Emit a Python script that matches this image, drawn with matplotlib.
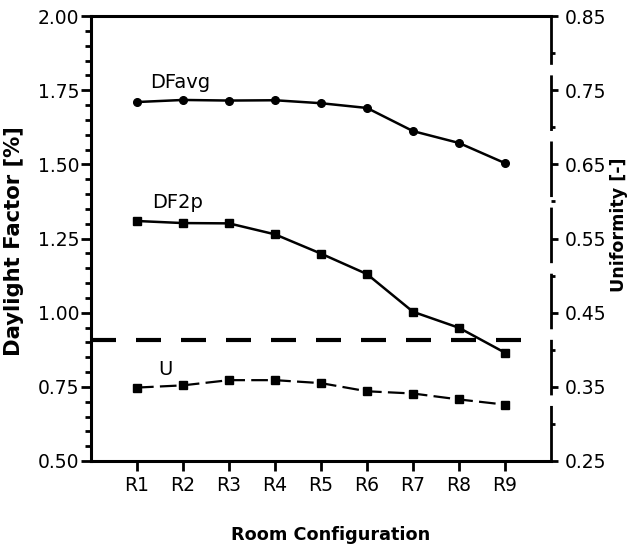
import matplotlib
matplotlib.use("Agg")
import matplotlib.pyplot as plt
import numpy as np

plt.rcParams['font.family'] = ['DejaVu Sans']
plt.rcParams['lines.scale_dashes'] = False

# room configurations
rooms = ['R1', 'R2', 'R3', 'R4', 'R5', 'R6', 'R7', 'R8', 'R9']
# average daylight factor [%]
df_avg = [1.710, 1.717, 1.715, 1.716, 1.706, 1.690, 1.612, 1.572, 1.504]
# daylight factor at 2 points [%]
df_2p = [1.309, 1.302, 1.301, 1.264, 1.199, 1.130, 1.003, 0.949, 0.865]
# uniformity [-]
uniformity = [0.349, 0.352, 0.359, 0.359, 0.355, 0.344, 0.341, 0.333, 0.326]
# dashed reference level on the daylight factor axis
threshold = 0.908
threshold_end = 9.38

x = np.arange(1, len(rooms) + 1)

fig = plt.figure(figsize=(6.31, 5.47), dpi=100)
ax = fig.add_axes([91 / 631, 86 / 547, 460 / 631, 445 / 547])
ax2 = ax.twinx()

ax.plot(x, df_avg, '-o', color='black', lw=1.8, ms=5.5)
ax.plot(x, df_2p, '-s', color='black', lw=1.8, ms=6)
ax.plot([0, threshold_end], [threshold, threshold], color='black', lw=3,
        dashes=(18, 14.4), solid_capstyle='butt', dash_capstyle='butt')
ax2.plot(x, uniformity, 's', color='black', ls=(0, (12, 4.5)), lw=1.6, ms=6)

ax.text(1.29, 1.776, 'DFavg', fontsize=14, va='center', ha='left')
ax.text(1.33, 1.370, 'DF2p', fontsize=14, va='center', ha='left')
ax2.text(1.46, 0.374, 'U', fontsize=14, va='center', ha='left')

ax.set_xlim(0, 10)
ax.set_ylim(0.5, 2.0)
ax2.set_ylim(0.25, 0.85)

ax.set_xticks(x)
ax.set_xticklabels(rooms)
ax.set_yticks(np.arange(0.5, 2.01, 0.25))
ax.set_yticks(np.arange(0.5, 2.01, 0.05), minor=True)
ax.yaxis.set_major_formatter(matplotlib.ticker.FormatStrFormatter('%.2f'))
ax2.set_yticks(np.arange(0.25, 0.851, 0.1))
ax2.set_yticks(np.arange(0.30, 0.81, 0.1), minor=True)
ax2.yaxis.set_major_formatter(matplotlib.ticker.FormatStrFormatter('%.2f'))

ax.tick_params(axis='y', which='major', direction='out', length=7, width=2,
               labelsize=13.5, pad=1.5)
ax.tick_params(axis='y', which='minor', direction='out', length=4.5, width=2)
ax.tick_params(axis='x', which='major', direction='out', length=7, width=2,
               labelsize=13.5, pad=4)
ax.tick_params(axis='x', which='minor', bottom=False)
ax2.tick_params(axis='y', which='major', direction='out', length=5, width=2,
                labelsize=13.5, pad=5)
ax2.tick_params(axis='y', which='minor', direction='out', length=3, width=2)

for s in ['left', 'bottom', 'top']:
    ax.spines[s].set_linewidth(2.2)
ax.spines['right'].set_visible(False)
for s in ['left', 'bottom', 'top']:
    ax2.spines[s].set_visible(False)
ax2.spines['right'].set_linewidth(2)
ax2.spines['right'].set_linestyle((0, (40, 7.6)))
ax2.spines['right'].set_capstyle('butt')

ax.set_xlabel('Room Configuration', fontsize=12.7, fontweight='bold', va='center')
ax.xaxis.set_label_coords(0.522, -0.166)
ax.set_ylabel('Daylight Factor [%]', fontsize=15.2, fontweight='bold', va='center')
ax.yaxis.set_label_coords(-0.167, 0.494)
ax2.set_ylabel('Uniformity [-]', fontsize=12.6, fontweight='bold', va='center',
               rotation=90)
ax2.yaxis.set_label_coords(1.148, 0.53)

fig.savefig('out.png', dpi=100)
